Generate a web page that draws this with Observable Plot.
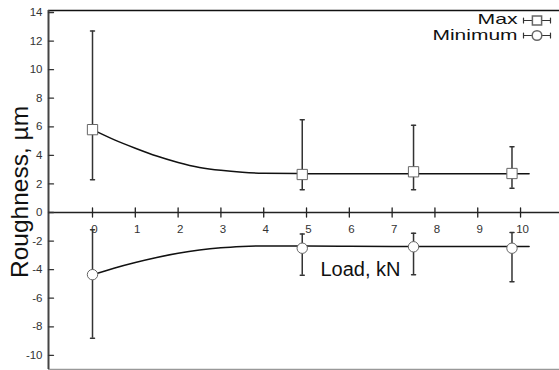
<!DOCTYPE html>
<html><head><meta charset="utf-8">
<script src="https://cdn.jsdelivr.net/npm/d3@7"></script>
<script src="https://cdn.jsdelivr.net/npm/@observablehq/plot@0.6"></script>
<style>body{margin:0;background:#fff}</style>
</head><body><div id="chart"></div>
<script>
// Measured points (Load, kN)
const loads = [0, 4.9, 7.5, 9.8];
const maxMean = [5.8, 2.66, 2.85, 2.73];
const maxHigh = [12.7, 6.5, 6.1, 4.6];
const maxLow = [2.3, 1.6, 1.6, 1.7];
const minMean = [-4.35, -2.5, -2.4, -2.5];
const minHigh = [-1.2, -1.5, -1.45, -1.4];
const minLow = [-8.8, -4.4, -4.35, -4.85];

// Fitted trend curves
const fitLoad = [0, 0.5, 1, 1.5, 2, 2.5, 3, 3.5, 4, 5, 6, 7, 8, 9, 10.2];
const fitMax = [5.8, 5.1, 4.5, 3.95, 3.5, 3.15, 2.95, 2.82, 2.75, 2.72, 2.72, 2.72, 2.72, 2.72, 2.72];
const fitMin = [-4.35, -3.9, -3.5, -3.15, -2.85, -2.62, -2.47, -2.38, -2.34, -2.35, -2.37, -2.38, -2.38, -2.38, -2.38];

const xTicks = [0, 1, 2, 3, 4, 5, 6, 7, 8, 9, 10];
const yTicks = [-10, -8, -6, -4, -2, 0, 2, 4, 6, 8, 10, 12, 14];
const legendLabels = ["Max", "Minimum"];

const pts = loads.map((x, i) => ({x, max: maxMean[i], maxHi: maxHigh[i], maxLo: maxLow[i],
  min: minMean[i], minHi: minHigh[i], minLo: minLow[i]}));
const fit = fitLoad.map((x, i) => ({x, max: fitMax[i], min: fitMin[i]}));

const xDom = [-1.028, 10.91];
const yDom = [-10.99, 14.14];

const tickShape = {draw(ctx, l) { ctx.moveTo(0, 0); ctx.lineTo(0, -l); }};
const midTick = {draw(ctx, l) { ctx.moveTo(0, l / 2); ctx.lineTo(0, -l / 2); }};
const capShape = {draw(ctx, l) { ctx.moveTo(-l / 2, 0); ctx.lineTo(l / 2, 0); }};
const legendLine = {draw(ctx, l) {
  ctx.moveTo(-l / 2, 0); ctx.lineTo(l / 2, 0);
  ctx.moveTo(-l / 2, -2.5); ctx.lineTo(-l / 2, 2.5);
  ctx.moveTo(l / 2, -2.5); ctx.lineTo(l / 2, 2.5);
}};

const chart = Plot.plot({
  width: 559, height: 370,
  marginLeft: 48, marginRight: 0, marginTop: 10, marginBottom: 1,
  x: {domain: xDom, axis: null},
  y: {domain: yDom, axis: null},
  style: {fontFamily: "'Liberation Sans', Arial, sans-serif", background: "#fff"},
  marks: [
    Plot.ruleY([yDom[1]], {stroke: "#111", strokeWidth: 1.5}),
    Plot.ruleY([yDom[0]], {stroke: "#999", strokeWidth: 1.5}),
    Plot.ruleX([xDom[0]], {stroke: "#444", strokeWidth: 2}),
    Plot.ruleY([0], {stroke: "#222", strokeWidth: 1.5}),
    Plot.vector(yTicks, {x: () => xDom[0], y: d => d, length: 5, rotate: 90, anchor: "start", shape: tickShape, stroke: "#333", strokeWidth: 1.3}),
    Plot.text(yTicks, {x: () => xDom[0], y: d => d, text: d => String(d), textAnchor: "end", dx: -6, fontSize: 11.5, fill: "#333"}),
    Plot.vector(xTicks, {x: d => d, y: () => 0, length: 9, anchor: "start", shape: midTick, stroke: "#222", strokeWidth: 1.3}),
    Plot.text(xTicks, {x: d => d, y: () => 0, text: d => String(d), dy: 17, dx: 2, fontSize: 11.5, fill: "#333"}),

    Plot.line(fit, {x: "x", y: "max", curve: "natural", stroke: "#111", strokeWidth: 1.5}),
    Plot.line(fit, {x: "x", y: "min", curve: "natural", stroke: "#111", strokeWidth: 1.5}),

    Plot.ruleX(pts, {x: "x", y1: "maxLo", y2: "maxHi", stroke: "#333", strokeWidth: 1.5}),
    Plot.ruleX(pts, {x: "x", y1: "minLo", y2: "minHi", stroke: "#333", strokeWidth: 1.5}),
    Plot.vector(pts, {x: "x", y: "maxHi", length: 4, anchor: "start", shape: capShape, stroke: "#333", strokeWidth: 1.5}),
    Plot.vector(pts, {x: "x", y: "maxLo", length: 4, anchor: "start", shape: capShape, stroke: "#333", strokeWidth: 1.5}),
    Plot.vector(pts, {x: "x", y: "minHi", length: 4, anchor: "start", shape: capShape, stroke: "#333", strokeWidth: 1.5}),
    Plot.vector(pts, {x: "x", y: "minLo", length: 4, anchor: "start", shape: capShape, stroke: "#333", strokeWidth: 1.5}),

    Plot.dot(pts, {x: "x", y: "max", symbol: "square", r: 5.8, fill: "white", stroke: "#666", strokeWidth: 1}),
    Plot.dot(pts, {x: "x", y: "min", symbol: "circle", r: 5.2, fill: "white", stroke: "#666", strokeWidth: 1}),

    // legend
    Plot.text([legendLabels[0]], {frameAnchor: "top-right", text: d => d, textAnchor: "end", lineAnchor: "middle", dx: -42, dy: 9, fontSize: 15, fill: "#111"}),
    Plot.text([legendLabels[1]], {frameAnchor: "top-right", text: d => d, textAnchor: "end", lineAnchor: "middle", dx: -42, dy: 24.5, fontSize: 15, fill: "#111"}),
    Plot.vector([0], {frameAnchor: "top-right", dx: -22.5, dy: 10, length: 27, anchor: "start", shape: legendLine, stroke: "#333", strokeWidth: 1.2}),
    Plot.vector([0], {frameAnchor: "top-right", dx: -22.5, dy: 25, length: 27, anchor: "start", shape: legendLine, stroke: "#333", strokeWidth: 1.2}),
    Plot.dot([0], {frameAnchor: "top-right", dx: -22.5, dy: 10, symbol: "square", r: 5.2, fill: "white", stroke: "#666"}),
    Plot.dot([0], {frameAnchor: "top-right", dx: -22.5, dy: 25, symbol: "circle", r: 4.8, fill: "white", stroke: "#666"}),

    // axis titles
    Plot.text(["Load, kN"], {frameAnchor: "top-left", text: d => d, textAnchor: "start", lineAnchor: "middle", dx: 272, dy: 259, fontSize: 20, fill: "#111"}),
    Plot.text(["Roughness, µm"], {frameAnchor: "left", text: d => d, textAnchor: "middle", lineAnchor: "middle", rotate: -90, dx: -28, dy: 2, fontSize: 24.5, fill: "#111"})
  ]
});
document.getElementById("chart").append(chart);

// legend text in the reference is horizontally stretched
const targets = {"Max": 40, "Minimum": 85};
d3.select(chart).selectAll("text").each(function() {
  const t = this.textContent;
  if (targets[t]) { this.setAttribute("textLength", targets[t]); this.setAttribute("lengthAdjust", "spacingAndGlyphs"); }
});
</script>
</body></html>
